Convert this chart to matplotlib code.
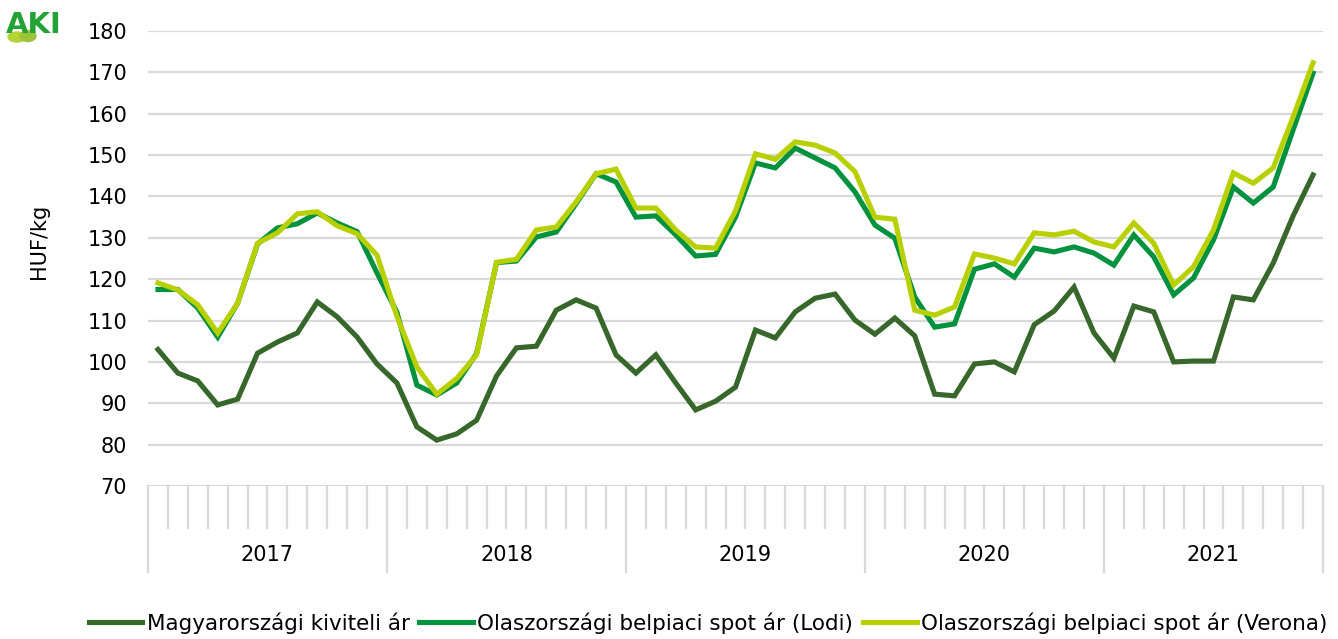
import matplotlib
matplotlib.use("Agg")
import matplotlib.pyplot as plt
from matplotlib.patches import Ellipse
import matplotlib.transforms as mtransforms

plt.rcParams['font.family'] = ['DejaVu Sans']

years = ["2017", "2018", "2019", "2020", "2021"]
months_per_year = [12, 12, 12, 12, 11]

magyar = [103.0, 97.3, 95.4, 89.6, 91.0, 102.1, 104.8, 107.0, 114.5, 110.9, 106.0, 99.5,
          94.9, 84.3, 81.1, 82.6, 85.9, 96.6, 103.4, 103.8, 112.5, 115.0, 113.0, 101.7,
          97.3, 101.7, 94.9, 88.4, 90.5, 93.9, 107.7, 105.8, 112.1, 115.4, 116.4, 110.1,
          106.7, 110.6, 106.3, 92.2, 91.8, 99.5, 100.0, 97.6, 109.0, 112.3, 118.1, 107.0,
          100.9, 113.5, 112.1, 100.0, 100.2, 100.2, 115.7, 115.0, 123.9, 135.3, 145.2]

lodi = [117.5, 117.5, 113.0, 106.0, 114.2, 128.5, 132.4, 133.4, 136.0, 133.6, 131.5, 121.5,
        112.0, 94.4, 92.0, 94.9, 102.0, 124.0, 124.4, 130.2, 131.4, 138.3, 145.5, 143.5,
        135.0, 135.3, 130.7, 125.6, 126.0, 135.0, 148.1, 146.9, 151.7, 149.3, 146.9, 141.1,
        133.1, 129.9, 115.7, 108.4, 109.2, 122.4, 123.7, 120.5, 127.5, 126.6, 127.8, 126.3,
        123.4, 130.7, 125.4, 116.2, 120.3, 129.5, 142.3, 138.4, 142.3, 156.1, 169.8]

verona = [119.1, 117.4, 113.8, 107.0, 114.2, 128.7, 131.2, 135.8, 136.3, 132.9, 131.0, 125.8,
          111.0, 98.8, 92.2, 96.0, 101.7, 124.1, 124.8, 131.9, 132.6, 138.7, 145.5, 146.6,
          137.2, 137.2, 131.9, 127.8, 127.5, 136.5, 150.3, 149.0, 153.2, 152.4, 150.5, 146.0,
          135.0, 134.5, 112.5, 111.3, 113.3, 126.1, 125.1, 123.7, 131.2, 130.7, 131.6, 129.0,
          127.8, 133.6, 128.7, 118.6, 123.0, 131.9, 145.7, 143.2, 146.9, 159.2, 172.3]

series_names = ["Magyarországi kiviteli ár",
                "Olaszországi belpiaci spot ár (Lodi)",
                "Olaszországi belpiaci spot ár (Verona)"]
colors = ["#38672B", "#00923F", "#B9D000"]
yticks = [70, 80, 90, 100, 110, 120, 130, 140, 150, 160, 170, 180]

W, H = 1338, 639
fig = plt.figure(figsize=(W / 100, H / 100), dpi=100)
left, right, top, bottom = 148, 1323, 31, 486
ax = fig.add_axes([left / W, 1 - bottom / H, (right - left) / W, (bottom - top) / H])

n = len(magyar)
x = list(range(n))
for vals, c, name in zip([magyar, lodi, verona], colors, series_names):
    ax.plot(x, vals, color=c, lw=3.7, label=name, solid_joinstyle='miter', zorder=3)

ax.set_xlim(-0.5, n - 0.5)
ax.set_ylim(70, 180)
ax.set_yticks(yticks)
ax.tick_params(axis='y', length=0, pad=15, labelsize=15)
ax.set_xticks([])
for s in ax.spines.values():
    s.set_visible(False)
grid_col = "#D9D9D9"
for yv in yticks:
    ax.axhline(yv, color=grid_col, lw=1.6, zorder=1)

ax.set_ylabel("HUF/kg", fontsize=15)
ax.yaxis.set_label_coords((49 - left) / (right - left), (bottom - 241) / (bottom - top))

# category axis ticks
trans = mtransforms.blended_transform_factory(ax.transData, ax.transAxes)
axh = bottom - top
short_end = -(528 - bottom) / axh
long_end = -(572 - bottom) / axh
year_bounds = [0]
for m in months_per_year:
    year_bounds.append(year_bounds[-1] + m)
for k in range(n + 1):
    yb = long_end if k in year_bounds else short_end
    ax.plot([k - 0.5, k - 0.5], [0, yb], color=grid_col, lw=1.6, transform=trans,
            clip_on=False, zorder=1)
label_y = -(555 - bottom) / axh
for i, yr in enumerate(years):
    cx = (year_bounds[i] + year_bounds[i + 1]) / 2 - 0.5
    ax.text(cx, label_y, yr, transform=trans, ha='center', va='center', fontsize=15)

handles, labels = ax.get_legend_handles_labels()
fig.legend(handles, labels, loc='center', bbox_to_anchor=(708 / W, 1 - 623 / H), ncol=3,
           frameon=False, fontsize=15.5, handlelength=2.5, handletextpad=0.2,
           columnspacing=0.45, borderaxespad=0)

# logo approximation
lax = fig.add_axes([0, 1 - 50 / H, 70 / W, 50 / H])
lax.set_xlim(0, 70)
lax.set_ylim(50, 0)
lax.axis('off')
lax.add_patch(Ellipse((17, 37), 18, 10, color="#B5D334", zorder=1))
lax.add_patch(Ellipse((28, 36), 16, 11, color="#9CC33A", zorder=1))
lax.text(34, 25, "AKI", ha='center', va='center', fontsize=21, fontweight='bold',
         color="#23A236", zorder=2)

fig.savefig("out.png", dpi=100)
